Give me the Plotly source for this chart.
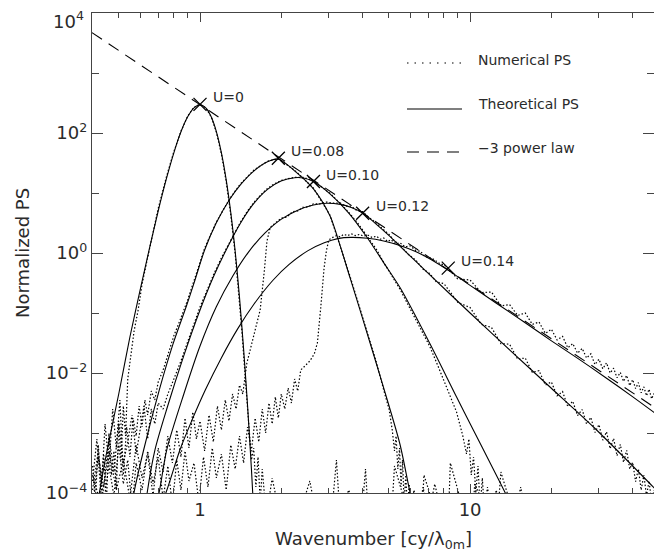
import numpy as np
import plotly.graph_objects as go

# ---------------------------------------------------------------------------
# Theoretical power spectra (wavenumber k, log10 of normalized PS)
# ---------------------------------------------------------------------------
th_u000_k = [0.42, 0.45, 0.50, 0.55, 0.60, 0.65, 0.70, 0.75, 0.80, 0.85, 0.90, 0.95, 1.00,
             1.05, 1.10, 1.15, 1.20, 1.25, 1.30, 1.35, 1.40, 1.45, 1.50, 1.55, 1.60]
th_u000_lp = [-4.10, -3.35, -2.35, -1.40, -0.62, 0.08, 0.70, 1.23, 1.67, 2.02, 2.27, 2.42, 2.47,
              2.42, 2.27, 2.02, 1.67, 1.22, 0.67, 0.02, -0.74, -1.60, -2.55, -3.60, -4.76]

th_u008_k = [0.550, 0.569, 0.617, 0.708, 0.794, 0.891, 0.958, 1.04, 1.148, 1.29, 1.413, 1.585,
             1.778, 1.95, 2.239, 2.63, 3.027, 3.304, 3.597, 3.981, 4.467, 5.012, 5.508, 6.0, 6.3]
th_u008_lp = [-4.40, -4.00, -3.30, -2.27, -1.52, -0.88, -0.45, 0.05, 0.50, 0.90, 1.14, 1.37,
              1.52, 1.567, 1.37, 1.07, 0.62, 0.12, -0.42, -1.06, -1.80, -2.55, -3.20, -4.00, -4.40]

th_u010_k = [0.617, 0.637, 0.681, 0.759, 0.871, 1.0, 1.12, 1.259, 1.413, 1.585, 1.778, 1.995,
             2.239, 2.415, 2.63, 3.02, 3.548, 4.169, 4.786, 5.508, 7.079, 8.913, 10.28, 12.02,
             13.68, 14.79]
th_u010_lp = [-4.50, -4.00, -3.28, -2.55, -1.71, -0.95, -0.40, 0.08, 0.50, 0.83, 1.06, 1.20,
              1.255, 1.25, 1.19, 0.99, 0.67, 0.25, -0.16, -0.58, -1.50, -2.40, -2.95, -3.55,
              -4.05, -4.35]

th_u012_k = [0.661, 0.705, 0.753, 0.871, 1.0, 1.148, 1.324, 1.514, 1.738, 1.995, 2.291, 2.63,
             2.944, 3.311, 3.631, 3.999, 4.467, 5.012, 5.508, 7.079, 10.0, 14.13, 19.95, 28.64,
             38.02, 50.12]
th_u012_lp = [-4.50, -4.00, -3.28, -2.35, -1.55, -0.90, -0.38, 0.02, 0.33, 0.56, 0.71, 0.80,
              0.83, 0.81, 0.76, 0.67, 0.49, 0.29, 0.11, -0.36, -1.00, -1.63, -2.25, -2.90,
              -3.45, -4.00]

th_u014_k = [0.708, 0.75, 0.843, 0.933, 1.047, 1.202, 1.380, 1.585, 1.866, 2.138, 2.512, 2.884,
             3.236, 3.631, 4.169, 4.786, 5.495, 6.310, 7.244, 8.318, 10.0, 12.59, 15.85, 19.95,
             25.12, 31.62, 39.81, 50.12]
th_u014_lp = [-4.25, -3.98, -3.28, -2.79, -2.28, -1.74, -1.26, -0.85, -0.45, -0.19, 0.04, 0.17,
              0.24, 0.26, 0.245, 0.20, 0.125, 0.02, -0.12, -0.29, -0.54, -0.845, -1.15, -1.46,
              -1.76, -2.07, -2.39, -2.72]

# ---------------------------------------------------------------------------
# Numerical power spectra (wavenumber k, log10 of normalized PS)
# ---------------------------------------------------------------------------
num_u000_k = [0.40, 0.41, 0.42, 0.43, 0.44, 0.45, 0.46, 0.47, 0.48, 0.49, 0.50, 0.51, 0.52,
              0.53, 0.54, 0.55, 0.57, 0.59, 0.61, 0.63, 0.66, 0.70, 0.75, 0.80, 0.85, 0.90,
              0.95, 1.00, 1.05, 1.10, 1.15, 1.20, 1.25, 1.30, 1.35, 1.40, 1.43, 1.46, 1.49,
              1.52, 1.55, 1.58, 1.61, 1.64, 1.67, 1.70, 1.76, 1.85, 2.00, 2.10, 2.30, 2.55,
              2.70, 3.05, 3.20, 3.30, 3.55, 3.95, 4.10, 4.20, 4.70, 5.10, 5.25, 5.90, 6.60,
              6.75, 7.60, 8.30, 8.45, 9.60, 10.2, 10.4, 11.8, 12.6, 13.0, 14.6, 15.4, 16.2]
num_u000_lp = [-3.55, -4.10, -3.20, -3.85, -3.35, -4.20, -3.00, -3.70, -3.30, -3.95, -2.85,
               -3.45, -2.55, -3.05, -2.10, -1.85, -1.30, -0.95, -0.52, -0.22, 0.22, 0.74, 1.26,
               1.69, 2.03, 2.28, 2.43, 2.48, 2.42, 2.27, 2.01, 1.65, 1.19, 0.63, -0.02, -0.80,
               -1.32, -1.88, -2.45, -3.00, -3.45, -3.25, -3.90, -3.40, -4.15, -3.60, -4.40,
               -3.75, -4.50, -4.05, -4.45, -3.80, -4.40, -4.50, -3.45, -4.40, -3.95, -4.50,
               -3.60, -4.40, -4.20, -4.50, -3.55, -4.35, -4.50, -3.70, -4.45, -4.50, -3.50,
               -4.40, -4.50, -3.85, -4.40, -4.50, -3.65, -4.40, -3.90, -4.50]

num_u008_k = [0.40, 0.415, 0.43, 0.445, 0.46, 0.475, 0.49, 0.505, 0.52, 0.535, 0.55, 0.565,
              0.58, 0.595, 0.61, 0.625, 0.64, 0.66, 0.68, 0.70, 0.73, 0.76, 0.80, 0.85, 0.90,
              0.96, 1.04, 1.15, 1.29, 1.41, 1.58, 1.78, 1.95, 2.24, 2.63, 3.03, 3.30, 3.60,
              3.98, 4.47, 4.80, 5.01, 5.15, 5.25, 5.32, 5.40, 5.48, 5.55, 5.62, 5.70, 5.78,
              5.86, 5.95, 6.05, 6.20, 6.40, 6.70, 7.00, 7.40, 7.80]
num_u008_lp = [-3.80, -3.10, -4.05, -2.85, -3.55, -2.60, -3.25, -2.45, -3.70, -2.90, -3.40,
               -2.75, -3.05, -2.55, -2.90, -2.45, -2.70, -2.30, -2.45, -2.15, -1.95, -1.70,
               -1.38, -1.08, -0.78, -0.40, 0.08, 0.52, 0.91, 1.15, 1.38, 1.53, 1.57, 1.38,
               1.08, 0.63, 0.13, -0.40, -1.04, -1.78, -2.30, -2.60, -2.95, -3.30, -3.05,
               -3.60, -3.25, -3.90, -3.45, -4.15, -3.70, -4.30, -3.85, -4.25, -3.95, -4.40,
               -3.90, -4.40, -3.85, -4.30]

num_u010_k = [0.40, 0.42, 0.44, 0.46, 0.48, 0.50, 0.52, 0.54, 0.56, 0.58, 0.60, 0.62, 0.64,
              0.66, 0.68, 0.70, 0.73, 0.76, 0.80, 0.85, 0.90, 0.95, 1.00, 1.06, 1.12, 1.20,
              1.26, 1.33, 1.41, 1.50, 1.58, 1.68, 1.78, 1.88, 2.00, 2.12, 2.24, 2.42, 2.63,
              2.82, 3.02, 3.30, 3.55, 3.85, 4.17, 4.50, 4.79, 5.10, 5.51, 6.00, 6.50, 7.08,
              7.60, 8.20, 8.91, 9.40, 9.70, 9.90, 10.1, 10.3, 10.5, 10.7, 10.9, 11.1, 11.3,
              11.6, 12.0, 12.5, 13.0]
num_u010_lp = [-4.20, -3.40, -3.90, -3.05, -3.65, -2.80, -3.50, -3.15, -2.70, -3.35, -2.95,
               -2.55, -3.10, -2.60, -2.85, -2.50, -2.60, -2.35, -2.10, -1.80, -1.48, -1.18,
               -0.90, -0.63, -0.37, -0.08, 0.10, 0.30, 0.51, 0.70, 0.84, 0.97, 1.08, 1.15,
               1.21, 1.24, 1.26, 1.26, 1.20, 1.10, 1.00, 0.83, 0.68, 0.49, 0.26, 0.06, -0.16,
               -0.37, -0.61, -0.93, -1.23, -1.55, -1.88, -2.25, -2.65, -3.05, -3.35, -3.10,
               -3.70, -3.40, -4.00, -3.55, -4.25, -3.75, -4.30, -3.90, -4.40, -3.95, -4.40]

num_u012_k = [0.40, 0.43, 0.46, 0.49, 0.52, 0.55, 0.58, 0.61, 0.64, 0.67, 0.70, 0.73, 0.76,
              0.79, 0.82, 0.85, 0.88, 0.91, 0.94, 0.97, 1.00, 1.04, 1.08, 1.12, 1.16, 1.20,
              1.24, 1.28, 1.32, 1.36, 1.40, 1.44, 1.49, 1.58, 1.67, 1.73, 1.77, 1.82, 1.90,
              2.00, 2.10, 2.20, 2.30, 2.40, 2.52, 2.63, 2.78, 2.94, 3.10, 3.31, 3.47, 3.63,
              3.80, 4.00, 4.20, 4.47, 4.75, 5.01, 5.25, 5.50, 5.90, 6.30, 6.70, 7.08, 7.50,
              8, 9, 10, 11, 12, 13, 14, 15, 16, 17, 18, 19, 20, 21, 22, 23, 24, 25, 26, 27,
              28, 29, 30, 31, 32, 33, 34, 35, 36, 37, 38, 39, 40, 41, 42, 43, 44, 45, 46, 47,
              48]
num_u012_lp = [-3.70, -4.20, -3.30, -3.95, -3.45, -4.10, -3.20, -3.75, -3.35, -4.05, -3.25,
               -3.65, -3.05, -3.50, -2.95, -3.40, -2.75, -3.25, -2.65, -3.10, -2.80, -3.30,
               -2.70, -3.15, -2.55, -2.95, -2.45, -2.80, -2.35, -2.60, -2.20, -2.35, -1.84,
               -1.40, -0.95, -0.30, 0.20, 0.43, 0.50, 0.58, 0.60, 0.69, 0.70, 0.76, 0.77,
               0.82, 0.82, 0.85, 0.83, 0.83, 0.78, 0.78, 0.71, 0.69, 0.60, 0.51, 0.40, 0.31,
               0.20, 0.13, -0.02, -0.12, -0.27, -0.34, -0.48,
               -0.51, -0.82, -0.91, -1.19, -1.24, -1.51, -1.52, -1.77, -1.75, -1.99, -1.96,
               -2.20, -2.15, -2.38, -2.31, -2.56, -2.47, -2.71, -2.61, -2.85, -2.74, -2.99,
               -2.86, -3.12, -2.98, -3.26, -3.09, -3.38, -3.19, -3.49, -3.29, -3.60, -3.49,
               -3.81, -3.60, -3.95, -3.70, -4.05, -3.80, -4.15, -3.95]

num_u014_k = [0.40, 0.42, 0.44, 0.46, 0.48, 0.50, 0.52, 0.54, 0.56, 0.58, 0.61, 0.64, 0.67,
              0.70, 0.73, 0.76, 0.79, 0.82, 0.85, 0.88, 0.91, 0.95, 0.99, 1.03, 1.07, 1.11,
              1.15, 1.20, 1.25, 1.30, 1.35, 1.40, 1.45, 1.50, 1.55, 1.60, 1.65, 1.70, 1.75,
              1.80, 1.85, 1.90, 1.95, 2.00, 2.06, 2.12, 2.18, 2.24, 2.30, 2.36, 2.45, 2.55,
              2.65, 2.72, 2.80, 2.88, 2.94, 3.00, 3.10, 3.20, 3.30, 3.40, 3.52, 3.63, 3.76,
              3.90, 4.03, 4.17, 4.33, 4.50, 4.65, 4.79, 4.95, 5.10, 5.30, 5.50, 5.75, 6.00,
              6.30, 6.55, 6.80, 7.24, 7.80,
              8, 9, 10, 11, 12, 13, 14, 15, 16, 17, 18, 19, 20, 21, 22, 23, 24, 25, 26, 27,
              28, 29, 30, 31, 32, 33, 34, 35, 36, 37, 38, 39, 40, 41, 42, 43, 44, 45, 46, 47,
              48]
num_u014_lp = [-3.95, -3.30, -4.15, -3.55, -4.05, -3.20, -3.85, -3.45, -4.25, -3.50, -3.95,
               -3.30, -3.85, -3.40, -4.10, -3.55, -4.20, -3.45, -3.95, -3.30, -3.80, -3.50,
               -4.15, -3.40, -3.90, -3.25, -3.75, -3.35, -3.95, -3.20, -3.60, -3.05, -3.50,
               -2.90, -3.30, -2.75, -3.15, -2.60, -3.00, -2.50, -2.85, -2.40, -2.75, -2.35,
               -2.60, -2.25, -2.50, -2.10, -2.30, -1.95, -1.88, -1.80, -1.68, -1.50, -0.90,
               -0.25, 0.05, 0.22, 0.26, 0.29, 0.27, 0.31, 0.29, 0.32, 0.29, 0.31, 0.28, 0.30,
               0.26, 0.28, 0.23, 0.25, 0.19, 0.22, 0.15, 0.17, 0.10, 0.12, 0.04, 0.03, -0.06,
               -0.09, -0.19,
               -0.19, -0.43, -0.45, -0.66, -0.65, -0.88, -0.86, -1.04, -1.00, -1.19, -1.15,
               -1.34, -1.27, -1.45, -1.39, -1.58, -1.51, -1.67, -1.59, -1.75, -1.68, -1.86,
               -1.77, -1.93, -1.83, -2.00, -1.92, -2.08, -1.99, -2.14, -2.04, -2.21, -2.11,
               -2.26, -2.16, -2.33, -2.23, -2.38, -2.27, -2.43, -2.34]

# -3 power law envelope and the tangent points marked on it
law_k = [0.398, 48.0]
law_ps = [4700.0, 0.0027]
peak_k = [1.0, 1.95, 2.63, 4.0, 8.3]
peak_ps = [300.0, 38.0, 15.5, 4.6, 0.56]
peak_labels = ["U=0", "U=0.08", "U=0.10", "U=0.12", "U=0.14"]

# Axis ticks
x_major = [1, 10]
x_major_text = ["1", "10"]
x_minor = [0.5, 0.6, 0.7, 0.8, 0.9, 2, 3, 4, 5, 6, 7, 8, 9, 20, 30, 40]
y_major = [1e-4, 1e-2, 1e0, 1e2, 1e4]
y_major_text = ["10<sup>\u22124</sup>", "10<sup>\u22122</sup>", "10<sup>0</sup>",
                "10<sup>2</sup>", ""]
y_top_text = "10<sup>4</sup>"
y_minor = [1e-3, 1e-1, 1e1, 1e3]

# ---------------------------------------------------------------------------
W, H = 654, 551
PL, PT, PW, PH = 92, 13, 562, 480
FONT = "DejaVu Sans"
INK = "#2a2a2a"
AXC = "#444444"

fig = go.Figure()

num_dash = "1.5px,2px"
for k, lp in [(num_u000_k, num_u000_lp), (num_u008_k, num_u008_lp),
              (num_u010_k, num_u010_lp), (num_u012_k, num_u012_lp),
              (num_u014_k, num_u014_lp)]:
    fig.add_trace(go.Scatter(x=k, y=np.power(10.0, lp), mode="lines",
                             line=dict(color="black", width=1.2, dash=num_dash),
                             showlegend=False, hoverinfo="skip"))

for k, lp in [(th_u000_k, th_u000_lp), (th_u008_k, th_u008_lp), (th_u010_k, th_u010_lp),
              (th_u012_k, th_u012_lp), (th_u014_k, th_u014_lp)]:
    fig.add_trace(go.Scatter(x=k, y=np.power(10.0, lp), mode="lines",
                             line=dict(color="black", width=1.1, shape="spline", smoothing=0.8),
                             showlegend=False, hoverinfo="skip"))

fig.add_trace(go.Scatter(x=law_k, y=law_ps, mode="lines",
                         line=dict(color="black", width=1.1, dash="12px,8px"),
                         showlegend=False, hoverinfo="skip"))

fig.add_trace(go.Scatter(x=peak_k, y=peak_ps, mode="markers",
                         marker=dict(symbol="x-thin", size=13,
                                     line=dict(color="black", width=1.3)),
                         showlegend=False, hoverinfo="skip"))

# carrier for the right-hand tick axis
fig.add_trace(go.Scatter(x=[law_k[0]], y=[law_ps[0]], yaxis="y2", mode="lines",
                         line=dict(width=0), showlegend=False, hoverinfo="skip"))

annotations = []
for k, ps, lab in zip(peak_k, peak_ps, peak_labels):
    annotations.append(dict(x=np.log10(k), y=np.log10(ps), xref="x", yref="y", text=lab,
                            showarrow=False, xanchor="left", yanchor="middle",
                            xshift=11, yshift=7, font=dict(family=FONT, size=14, color=INK)))


def paper_x(px):
    return (px - PL) / PW


def paper_y(py):
    return (PT + PH - py) / PH


# top decade label, set just inside the window
annotations.append(dict(x=0, y=1, xref="paper", yref="paper", text=y_top_text,
                        showarrow=False, xanchor="right", yanchor="middle",
                        xshift=-6, yshift=-7, font=dict(family=FONT, size=18, color=INK)))

# legend block
legend_rows = [("Numerical PS", "1.5px,6px", 60, 63),
               ("Theoretical PS", "solid", 104, 109),
               ("\u22123 power law", "12px,8px", 148, 152)]
shapes = []
for text, dash, ty, ly in legend_rows:
    shapes.append(dict(type="line", xref="paper", yref="paper",
                       x0=paper_x(407), x1=paper_x(462), y0=paper_y(ly), y1=paper_y(ly),
                       line=dict(color="black", width=1.1, dash=dash)))
    annotations.append(dict(x=paper_x(476), y=paper_y(ty), xref="paper", yref="paper",
                            text=text, showarrow=False, xanchor="left", yanchor="middle",
                            font=dict(family=FONT, size=14, color=INK)))

# axis titles
annotations.append(dict(x=0.5, y=0, xref="paper", yref="paper",
                        text="Wavenumber [cy/\u03bb<sub>0m</sub>]", showarrow=False,
                        xanchor="center", yanchor="middle", yshift=-47,
                        font=dict(family=FONT, size=18, color=INK)))
annotations.append(dict(x=0, y=0.5, xref="paper", yref="paper", text="Normalized PS",
                        showarrow=False, textangle=-90, xanchor="center", yanchor="middle",
                        xshift=-70, font=dict(family=FONT, size=18, color=INK)))

fig.update_layout(
    width=W, height=H, autosize=False,
    margin=dict(l=PL, r=W - PL - PW, t=PT, b=H - PT - PH, pad=0),
    paper_bgcolor="white", plot_bgcolor="white",
    font=dict(family=FONT, size=18, color=INK),
    showlegend=False,
    xaxis=dict(type="log", range=[-0.4, 1.681], showgrid=False, zeroline=False,
               showline=True, linecolor=AXC, linewidth=1.3, mirror="ticks",
               ticks="inside", ticklen=9, tickwidth=1.2, tickcolor=AXC,
               tickmode="array", tickvals=x_major, ticktext=x_major_text,
               tickfont=dict(family=FONT, size=18, color=INK),
               minor=dict(ticks="inside", ticklen=5, tickwidth=1.1, tickcolor=AXC,
                          tickmode="array", tickvals=x_minor, showgrid=False)),
    yaxis=dict(type="log", range=[-4, 4], showgrid=False, zeroline=False,
               showline=True, linecolor=AXC, linewidth=1.3, mirror=False,
               ticks="inside", ticklen=11, tickwidth=1.2, tickcolor=AXC,
               tickmode="array", tickvals=y_major, ticktext=y_major_text,
               tickfont=dict(family=FONT, size=18, color=INK),
               minor=dict(ticks="inside", ticklen=7, tickwidth=1.1, tickcolor=AXC,
                          tickmode="array", tickvals=y_minor, showgrid=False)),
    yaxis2=dict(type="log", range=[-4, 4], overlaying="y", side="right",
                showgrid=False, zeroline=False, showline=False, showticklabels=False,
                ticks="inside", ticklen=11, tickwidth=1.2, tickcolor=AXC,
                tickmode="array", tickvals=y_major,
                minor=dict(ticks="inside", ticklen=7, tickwidth=1.1, tickcolor=AXC,
                           tickmode="array", tickvals=y_minor, showgrid=False)),
    shapes=shapes,
    annotations=annotations,
)

fig.write_html("out.html")
